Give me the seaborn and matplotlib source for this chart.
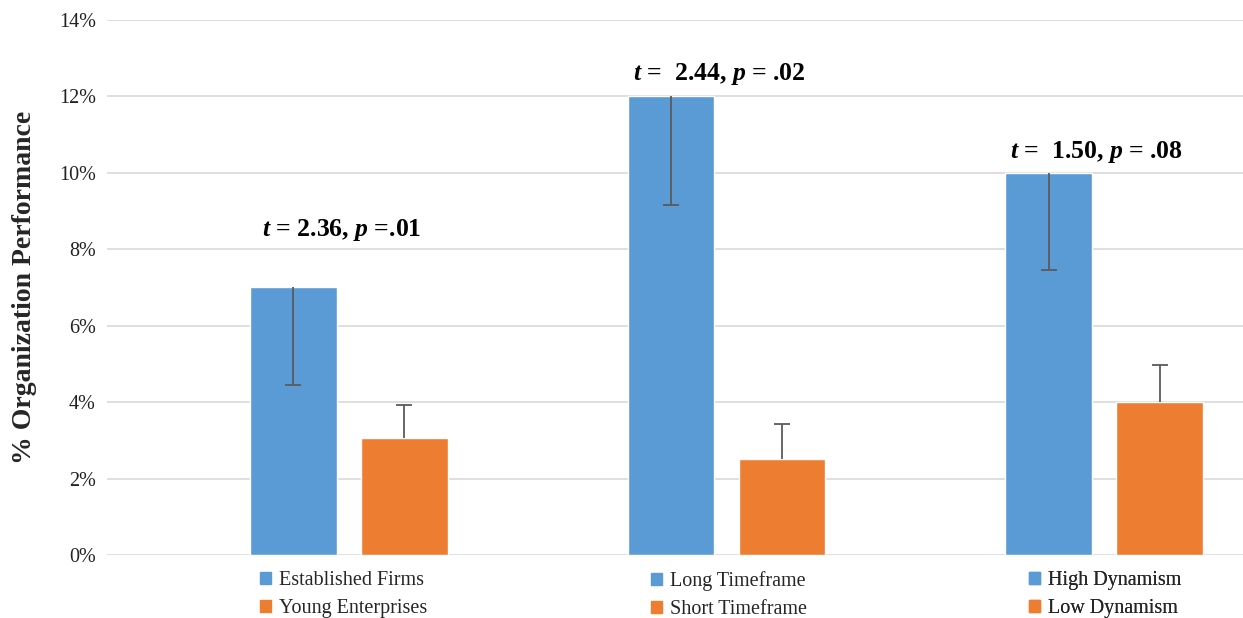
import pandas as pd
import matplotlib.pyplot as plt
import matplotlib.transforms as mtransforms
from matplotlib.patches import Patch
from matplotlib.ticker import FuncFormatter
import seaborn as sns

# values in percent
groups = ["Firm Age", "Timeframe", "Dynamism"]
high_labels = ["Established Firms", "Long Timeframe", "High Dynamism"]
low_labels = ["Young Enterprises", "Short Timeframe", "Low Dynamism"]
high_values = [7.0, 12.0, 10.0]
low_values = [3.05, 2.5, 4.0]
high_err_low = [4.45, 9.15, 7.45]   # lower end of the error bar
low_err_high = [3.93, 3.42, 4.97]   # upper end of the error bar
stats = [r"$t$ = 2.36, $p$ =.01", r"$t$ =  2.44, $p$ = .02", r"$t$ =  1.50, $p$ = .08"]
stat_y = [8.5, 12.6, 10.55]

blue = "#5B9BD5"
orange = "#ED7D31"

df = pd.DataFrame({
    "group": groups * 2,
    "series": ["high"] * 3 + ["low"] * 3,
    "value": high_values + low_values,
})

sns.set_style("white")
plt.rcParams["font.family"] = ["Liberation Serif", "DejaVu Serif"]
plt.rcParams["mathtext.fontset"] = "custom"
plt.rcParams["mathtext.it"] = "Liberation Serif:italic:bold"
plt.rcParams["mathtext.rm"] = "Liberation Serif:bold"

fig = plt.figure(figsize=(12.43, 6.18), dpi=100)
ax = fig.add_axes([0.086, 0.102, 0.914, 0.8656])

sns.barplot(data=df, x="group", y="value", hue="series",
            palette={"high": blue, "low": orange}, saturation=1,
            width=0.588, gap=0.218, legend=False, ax=ax, zorder=2)

# error bars: blue bars only downward, orange bars only upward
for cont, series in zip(ax.containers, ["high", "low"]):
    for i, bar in enumerate(cont):
        xc = bar.get_x() + bar.get_width() / 2
        h = bar.get_height()
        if series == "high":
            yerr = [[h - high_err_low[i]], [0]]
        else:
            yerr = [[0], [low_err_high[i] - h]]
        eb = ax.errorbar(xc, h, yerr=yerr, fmt="none", ecolor="#5a5a5a",
                         elinewidth=1.3, capsize=6, capthick=1.3, zorder=3)
        caps = eb[1]
        # keep only the cap at the far end of the bar
        if series == "high":
            caps[1].set_visible(False)
        else:
            caps[0].set_visible(False)

for i, s in enumerate(stats):
    ax.text(i - 0.02, stat_y[i], s, ha="center", va="center",
            fontsize=18.5, fontweight="bold", color="black")

ax.set_ylim(0, 14)
ax.set_yticks(range(0, 15, 2))
ax.yaxis.set_major_formatter(FuncFormatter(lambda v, p: f"{v:.0f}%"))
ax.set_xlim(-0.641, 2.368)
ax.set_xticks([])
ax.set_xlabel("")
ax.set_ylabel("% Organization Performance", fontsize=20, fontweight="bold", labelpad=16)
ax.tick_params(axis="y", labelsize=14.5, length=0, pad=8, colors="#222222")
ax.grid(axis="y", color="#d9d9d9", linewidth=1.2, zorder=0)
ax.set_axisbelow(True)
for sp in ax.spines.values():
    sp.set_visible(False)

trans = mtransforms.blended_transform_factory(ax.transData, ax.transAxes)
offsets = [-0.235, -0.2, -0.2]
for i in range(3):
    handles = [Patch(color=blue), Patch(color=orange)]
    leg = ax.legend(handles, [high_labels[i], low_labels[i]],
                    loc="upper left", bbox_to_anchor=(i + offsets[i], -0.03),
                    bbox_transform=trans, frameon=False, fontsize=14.5,
                    handlelength=0.55, handleheight=0.55, handletextpad=0.4,
                    labelspacing=0.45, borderaxespad=0, borderpad=0)
    ax.add_artist(leg)

fig.savefig("out.png", dpi=100)
